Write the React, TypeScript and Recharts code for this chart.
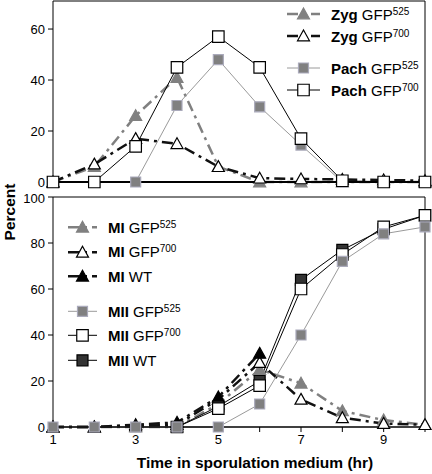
import React from "react";
import { Legend, Line, LineChart, ReferenceLine, XAxis, YAxis } from "recharts";

// hours in sporulation medium
const hours = [1, 2, 3, 4, 5, 6, 7, 8, 9, 10];

// top panel: zygotene / pachytene (%)
const zygGfp525 = [0, 6, 26, 41, 6, 0, 0, 0, 0, 0];
const zygGfp700 = [0, 7, 17, 15, 6, 1.5, 1.2, 1, 0.8, 0.5];
const pachGfp525 = [0, 0, 0, 30, 48, 29.5, 14.5, 0, 0, 0];
const pachGfp700 = [0, 0, 14, 45, 57, 45, 17, 0.5, 0, 0];

// bottom panel: MI / MII (%)
const miGfp525 = [0, 0, 0, 0, 10, 25, 19, 7, 3, 1];
const miGfp700 = [0, 0, 0.5, 1, 12, 28, 12, 4, 1.5, 1];
const miWt = [0, 0, 1, 2, 13, 32, null, null, null, null];
const miiGfp525 = [0, 0, 0, 0, 0, 10, 40, 72, 84, 87];
const miiGfp700 = [null, null, null, 0, 8, 18, 60, 75, 87, 92];
const miiWt = [null, null, null, 0, 9, 20, 64, 77, 86, 92];

const topTicks = [0, 20, 40, 60];
const bottomTicks = [0, 20, 40, 60, 80, 100];

const font = '"Liberation Sans", Arial, Helvetica, sans-serif';
const GRAY = "#808080";
const LIGHT = "#9a9a9a";

type Marker = "tri" | "sq";
type Series = {
  key: string;
  stage: string;
  tag: string;
  sup?: string;
  stroke: string;
  width: number;
  dash?: string;
  marker: Marker;
  fill: string;
  edge: string;
  size: number;
  gap?: boolean;
};

const topSeries: Series[] = [
  { key: "zyg525", stage: "Zyg", tag: "GFP", sup: "525", stroke: GRAY, width: 2.5, dash: "11 5 3 5", marker: "tri", fill: GRAY, edge: GRAY, size: 12 },
  { key: "zyg700", stage: "Zyg", tag: "GFP", sup: "700", stroke: "#111", width: 2.5, dash: "11 5 3 5", marker: "tri", fill: "#fff", edge: "#000", size: 12 },
  { key: "pach525", stage: "Pach", tag: "GFP", sup: "525", stroke: LIGHT, width: 1, marker: "sq", fill: GRAY, edge: "#aab", size: 10, gap: true },
  { key: "pach700", stage: "Pach", tag: "GFP", sup: "700", stroke: "#000", width: 1, marker: "sq", fill: "#fff", edge: "#000", size: 11.5 },
];

const bottomSeries: Series[] = [
  { key: "mi525", stage: "MI", tag: "GFP", sup: "525", stroke: GRAY, width: 2.5, dash: "11 5 3 5", marker: "tri", fill: GRAY, edge: GRAY, size: 12 },
  { key: "mi700", stage: "MI", tag: "GFP", sup: "700", stroke: "#111", width: 2.5, dash: "11 5 3 5", marker: "tri", fill: "#fff", edge: "#000", size: 12 },
  { key: "miwt", stage: "MI", tag: "WT", stroke: "#111", width: 2.5, dash: "11 5 3 5", marker: "tri", fill: "#000", edge: "#000", size: 12 },
  { key: "mii525", stage: "MII", tag: "GFP", sup: "525", stroke: LIGHT, width: 1, marker: "sq", fill: GRAY, edge: "#aab", size: 10, gap: true },
  { key: "mii700", stage: "MII", tag: "GFP", sup: "700", stroke: "#000", width: 1, marker: "sq", fill: "#fff", edge: "#000", size: 11.5 },
  { key: "miiwt", stage: "MII", tag: "WT", stroke: "#000", width: 1, marker: "sq", fill: "#333", edge: "#000", size: 11 },
];

// draw order for the bottom panel (gray MII squares on top near zero)
const bottomOrder = ["mi525", "mi700", "miwt", "miiwt", "mii700", "mii525"];

const topData = hours.map((h, i) => ({
  h,
  zyg525: zygGfp525[i],
  zyg700: zygGfp700[i],
  pach525: pachGfp525[i],
  pach700: pachGfp700[i],
}));

const bottomData = hours.map((h, i) => ({
  h,
  mi525: miGfp525[i],
  mi700: miGfp700[i],
  miwt: miWt[i],
  mii525: miiGfp525[i],
  mii700: miiGfp700[i],
  miiwt: miiWt[i],
}));

function markerPath(m: Marker, cx: number, cy: number, size: number) {
  const s = size / 2;
  if (m === "tri") {
    return `M${cx},${cy - s} L${cx + s},${cy + s * 0.8} L${cx - s},${cy + s * 0.8} Z`;
  }
  return `M${cx - s},${cy - s} H${cx + s} V${cy + s} H${cx - s} Z`;
}

function makeDot(s: Series) {
  return (props: any) => {
    const { cx, cy, index, value } = props;
    if (cx == null || cy == null || value == null || Number.isNaN(cy)) {
      return <g key={`${s.key}-${index}`} />;
    }
    return (
      <path
        key={`${s.key}-${index}`}
        d={markerPath(s.marker, cx, cy, s.size)}
        fill={s.fill}
        stroke={s.edge}
        strokeWidth={1.2}
      />
    );
  };
}

function LegendBlock({ items, symW, rowH }: { items: Series[]; symW: number; rowH: number }) {
  return (
    <div style={{ fontFamily: font, fontSize: 15, color: "#000" }}>
      {items.map((s) => (
        <div
          key={s.key}
          style={{ display: "flex", alignItems: "center", height: rowH, marginTop: s.gap ? 10 : 0 }}
        >
          <svg width={symW} height={rowH} style={{ flex: "none" }}>
            <line
              x1={0}
              x2={symW}
              y1={rowH / 2}
              y2={rowH / 2}
              stroke={s.stroke}
              strokeWidth={s.width}
              strokeDasharray={s.dash}
            />
            <path
              d={markerPath(s.marker, symW / 2, rowH / 2, s.size)}
              fill={s.fill}
              stroke={s.edge}
              strokeWidth={1.2}
            />
          </svg>
          <span style={{ marginLeft: 11, whiteSpace: "nowrap" }}>
            <b>{s.stage}</b> {s.tag}
            {s.sup && <sup style={{ fontSize: 10, verticalAlign: "5px" }}>{s.sup}</sup>}
          </span>
        </div>
      ))}
    </div>
  );
}

const axisTick = { fill: "#000", fontSize: 13, fontFamily: font };

export default function App() {
  return (
    <div style={{ position: "absolute", left: 0, top: 0, width: 432, height: 474, background: "#fff", fontFamily: font }}>
      <div style={{ position: "absolute", left: 0, top: 0 }}>
        <LineChart width={432} height={200} data={topData} margin={{ top: 1, right: 7, left: 13, bottom: 10 }}>
          <XAxis
            dataKey="h"
            type="number"
            domain={[1, 10]}
            ticks={hours}
            tick={false}
            tickSize={4}
            height={8}
            axisLine={{ stroke: "#000", strokeWidth: 2 }}
            tickLine={{ stroke: "#000" }}
          />
          <YAxis
            type="number"
            domain={[0, 71]}
            ticks={topTicks}
            width={40}
            tick={axisTick}
            tickSize={5}
            tickMargin={3}
            axisLine={{ stroke: "#000" }}
            tickLine={{ stroke: "#000" }}
          />
          <ReferenceLine y={71} stroke="#000" />
          <ReferenceLine x={10} stroke="#000" />
          {topSeries.map((s) => (
            <Line
              key={s.key}
              dataKey={s.key}
              type="linear"
              stroke={s.stroke}
              strokeWidth={s.width}
              strokeDasharray={s.dash}
              dot={makeDot(s)}
              activeDot={false}
              isAnimationActive={false}
            />
          ))}
          <Legend
            layout="vertical"
            align="center"
            verticalAlign="middle"
            wrapperStyle={{ top: 3, left: 287, width: 145 }}
            content={() => <LegendBlock items={topSeries} symW={33} rowH={22} />}
          />
        </LineChart>
      </div>

      <div style={{ position: "absolute", left: 0, top: 190 }}>
        <LineChart width={432} height={284} data={bottomData} margin={{ top: 7, right: 7, left: 13, bottom: 7 }}>
          <XAxis
            dataKey="h"
            type="number"
            domain={[1, 10]}
            ticks={hours}
            tickFormatter={(v: number) => (v % 2 === 1 ? String(v) : "")}
            tick={axisTick}
            tickSize={5}
            tickMargin={3}
            height={40}
            axisLine={{ stroke: "#000", strokeWidth: 1.5 }}
            tickLine={{ stroke: "#000" }}
            label={{
              value: "Time in sporulation medium (hr)",
              position: "insideBottom",
              offset: -1,
              dx: 16,
              style: { fontFamily: font, fontSize: 15.5, fontWeight: 700, fill: "#000" },
            }}
          />
          <YAxis
            type="number"
            domain={[0, 100]}
            ticks={bottomTicks}
            width={40}
            tick={axisTick}
            tickSize={5}
            tickMargin={3}
            axisLine={{ stroke: "#000" }}
            tickLine={{ stroke: "#000" }}
          />
          <ReferenceLine y={100} stroke="#000" />
          <ReferenceLine x={10} stroke="#000" />
          {bottomOrder.map((k) => {
            const s = bottomSeries.find((x) => x.key === k)!;
            return (
              <Line
                key={s.key}
                dataKey={s.key}
                type="linear"
                stroke={s.stroke}
                strokeWidth={s.width}
                strokeDasharray={s.dash}
                dot={makeDot(s)}
                activeDot={false}
                connectNulls={false}
                isAnimationActive={false}
              />
            );
          })}
          <Legend
            layout="vertical"
            align="center"
            verticalAlign="middle"
            wrapperStyle={{ top: 25, left: 68, width: 150 }}
            content={() => (
              <LegendBlock
                items={bottomSeries.map((s) => (s.key === "mii525" ? { ...s, gap: true } : { ...s, gap: false }))}
                symW={29}
                rowH={24.6}
              />
            )}
          />
        </LineChart>
      </div>

      <div
        style={{
          position: "absolute",
          left: 10,
          top: 212,
          transform: "translate(-50%, -50%) rotate(-90deg)",
          fontSize: 15.5,
          fontWeight: 700,
          lineHeight: "16px",
          whiteSpace: "nowrap",
          color: "#000",
        }}
      >
        Percent
      </div>
    </div>
  );
}
